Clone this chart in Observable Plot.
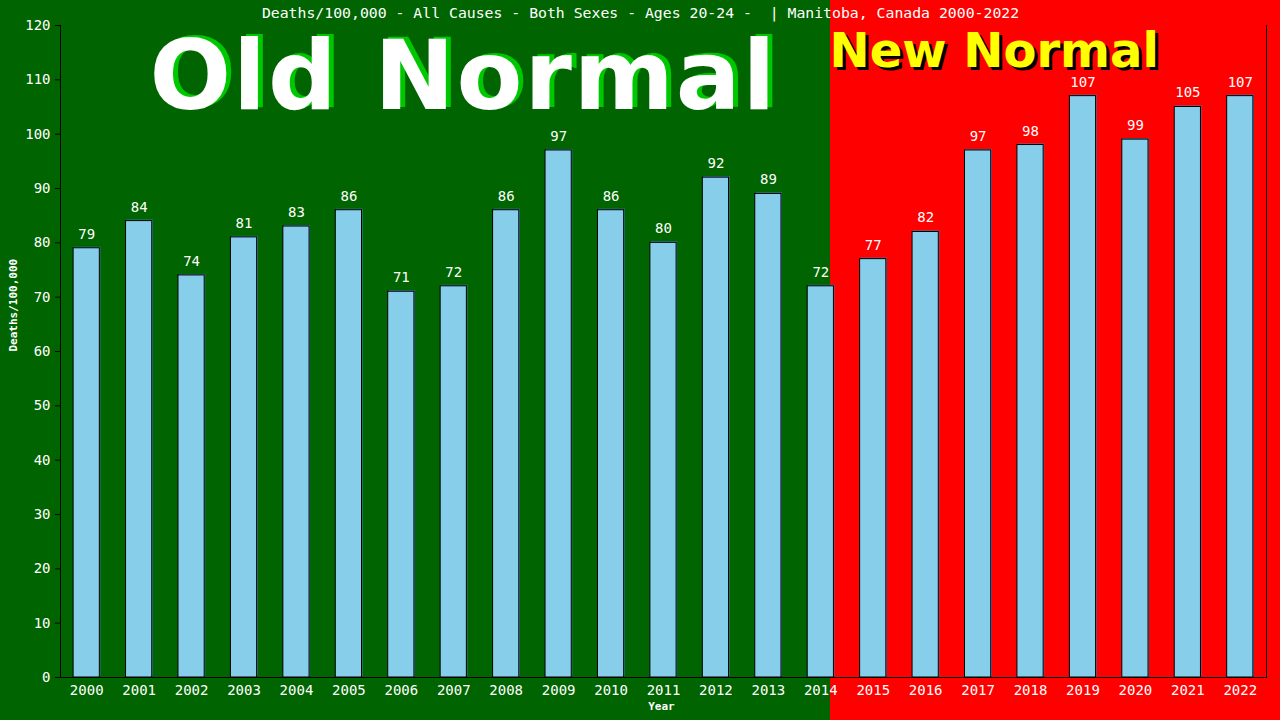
<!DOCTYPE html>
<html>
<head>
<meta charset="utf-8">
<script src="https://cdn.jsdelivr.net/npm/d3@7"></script>
<script src="https://cdn.jsdelivr.net/npm/@observablehq/plot@0.6"></script>
<style>
  html, body { margin: 0; padding: 0; background: #006400; overflow: hidden; }
  svg text { white-space: pre; }
</style>
</head>
<body>
<div id="chart"></div>
<script>
const years = ["2000","2001","2002","2003","2004","2005","2006","2007","2008","2009","2010","2011","2012","2013","2014","2015","2016","2017","2018","2019","2020","2021","2022"];
const deaths = [79,84,74,81,83,86,71,72,86,97,86,80,92,89,72,77,82,97,98,107,99,105,107];
const yTicks = [0,10,20,30,40,50,60,70,80,90,100,110,120];
const titleText = "Deaths/100,000 - All Causes - Both Sexes - Ages 20-24 -  | Manitoba, Canada 2000-2022";
const yLabel = "Deaths/100,000";
const xLabel = "Year";
const oldLabel = "Old Normal";
const newLabel = "New Normal";

const data = years.map((y, i) => ({year: y, value: deaths[i]}));
const mono = "'DejaVu Sans Mono', monospace";
const bold = "'DejaVu Sans', sans-serif";

const chart = Plot.plot({
  width: 1280,
  height: 720,
  marginTop: 25,
  marginBottom: 43,
  marginLeft: 60,
  marginRight: 14,
  style: {
    background: "linear-gradient(to right, #006400 830px, #ff0000 830px)",
    fontFamily: mono,
    fontSize: "14px",
    color: "white"
  },
  x: {domain: years, paddingInner: 0.5, paddingOuter: 0.25, round: false, label: null},
  y: {domain: [0, 120], label: null},
  marks: [
    Plot.text([oldLabel], {frameAnchor: "top-left", dx: 94, dy: 13, text: d => d, fill: "#00c800", fontFamily: bold, fontWeight: "bold", fontSize: 96}),
    Plot.text([oldLabel], {frameAnchor: "top-left", dx: 89, dy: 15, text: d => d, fill: "white", fontFamily: bold, fontWeight: "bold", fontSize: 96}),
    Plot.text([newLabel], {frameAnchor: "top-left", dx: 772, dy: 10, text: d => d, fill: "black", fontFamily: bold, fontWeight: "bold", fontSize: 48}),
    Plot.text([newLabel], {frameAnchor: "top-left", dx: 769, dy: 7, text: d => d, fill: "#ffff00", fontFamily: bold, fontWeight: "bold", fontSize: 48}),
    Plot.barY(data, {x: "year", y: "value", fill: "steelblue", dx: 1, dy: -1}),
    Plot.barY(data, {x: "year", y: "value", fill: "skyblue", stroke: "black", strokeWidth: 1}),
    Plot.text(data, {x: "year", y: "value", text: d => String(d.value), dy: -14, fill: "white", fontFamily: mono, fontSize: 14}),
    Plot.axisY({ticks: yTicks, tickSize: 5, tickPadding: 5, stroke: "black", fill: "white", label: null, fontFamily: mono, fontSize: 14}),
    Plot.axisX({tickSize: 0, tickPadding: 8, fill: "white", stroke: "black", label: null, fontFamily: mono, fontSize: 14}),
    Plot.frame({anchor: "left", stroke: "black"}),
    Plot.frame({anchor: "right", stroke: "black"}),
    Plot.ruleY([0], {stroke: "black"}),
    Plot.text([titleText], {frameAnchor: "top", dx: -23, dy: -18, text: d => d, fill: "white", fontFamily: mono, fontSize: 14.8}),
    Plot.text([yLabel], {frameAnchor: "left", dx: -47, dy: 0, rotate: -90, text: d => d, fill: "white", fontFamily: mono, fontWeight: "bold", fontSize: 11}),
    Plot.text([xLabel], {frameAnchor: "bottom", dx: -2, dy: 32, text: d => d, fill: "white", fontFamily: mono, fontWeight: "bold", fontSize: 11})
  ]
});
d3.select(chart).selectAll("text").filter(function() { return this.textContent === oldLabel; })
  .attr("letter-spacing", "2").style("letter-spacing", "2px");
document.getElementById("chart").appendChild(chart);
</script>
</body>
</html>
